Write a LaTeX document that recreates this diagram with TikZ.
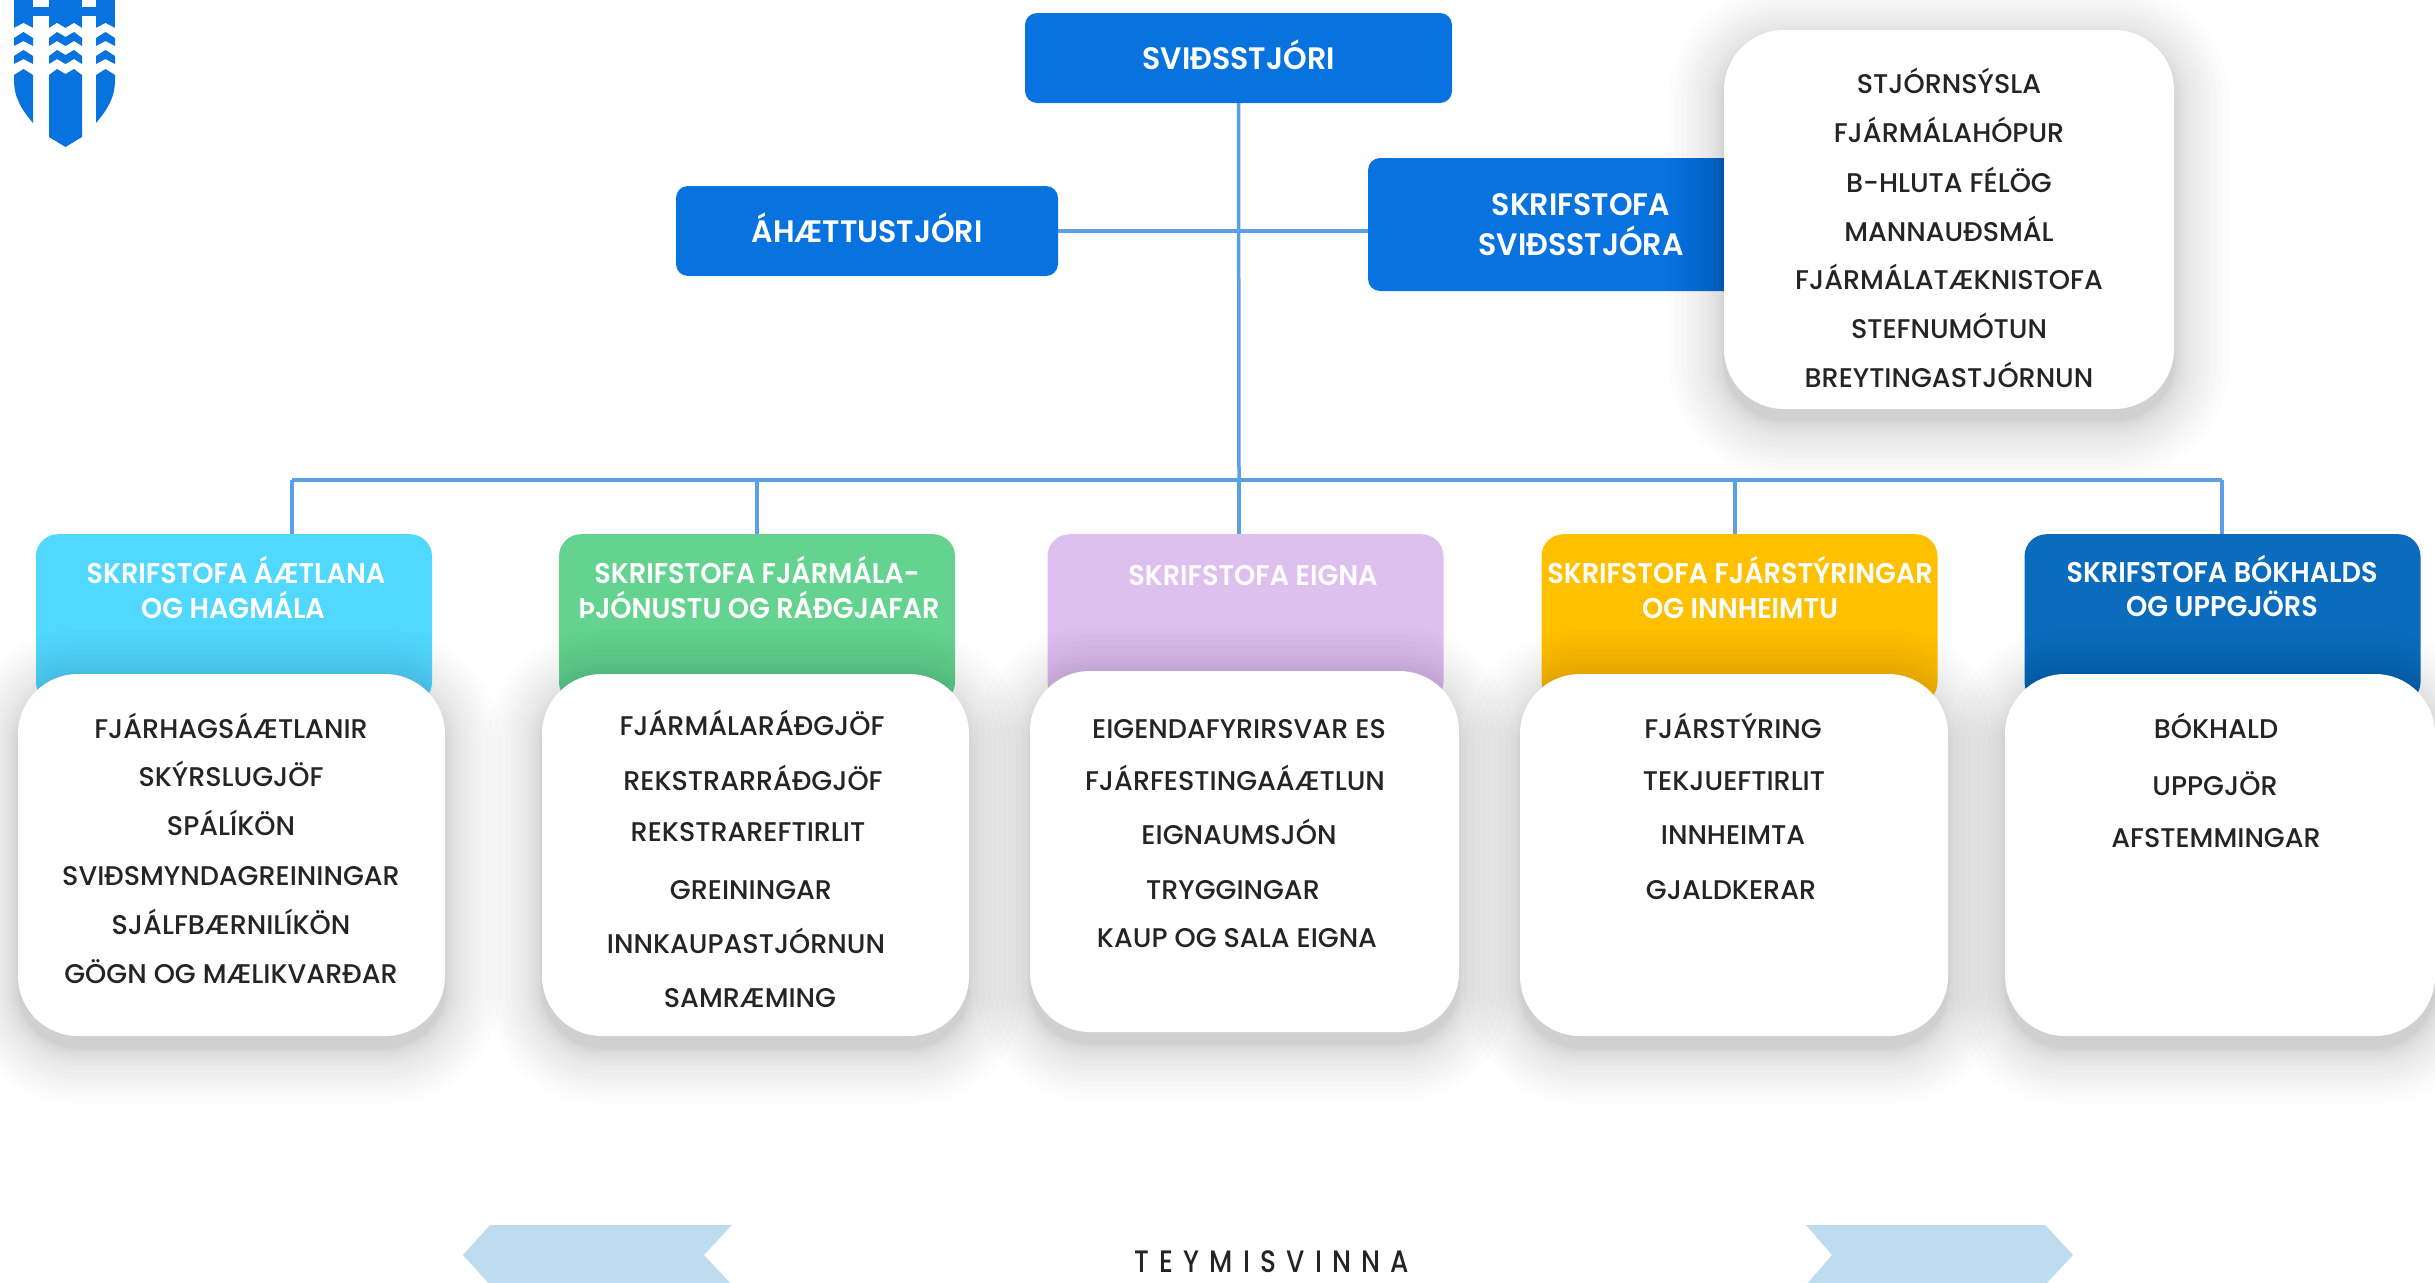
\documentclass[tikz,border=0pt]{standalone}
\usepackage{fontspec}
\newfontfamily\bodyfnt[FakeStretch=1.0]{Poppins Medium}
\newfontfamily\headfnt[FakeStretch=0.95]{Poppins SemiBold}
\newfontfamily\topfnt[FakeStretch=0.97]{Poppins SemiBold}
\newfontfamily\teamfnt[FakeStretch=0.85,LetterSpace=33]{Poppins Medium}
\definecolor{bluemain}{HTML}{0872DE}
\definecolor{linecol}{HTML}{5A9FE8}
\definecolor{hcyan}{HTML}{50D8FF}
\definecolor{hgreen}{HTML}{64D38F}
\definecolor{hpurple}{HTML}{DDC0EE}
\definecolor{hyellow}{HTML}{FFC000}
\definecolor{hnavy}{HTML}{0B6CBD}
\definecolor{arrowblue}{HTML}{BDDCF0}
\definecolor{txt}{HTML}{242424}
\newcommand{\softshadow}[4]{%
  \foreach \t in {1,...,16}{%
    \pgfmathsetmacro{\e}{56*(\t/16)*(\t/16)}%
    \fill[black,fill opacity=0.011,rounded corners={(60+\e)*1pt}]
      ({#1-\e},{#2-\e+12}) rectangle ({#3+\e},{#4+\e+12});
  }%
}
\tikzset{
  topbox/.style={fill=bluemain,rounded corners=12pt,inner sep=0pt,text=white,align=center,text height=22pt,text depth=0pt,font=\topfnt\fontsize{31}{40}\selectfont},
  headbox/.style={rounded corners=22pt,inner sep=0pt,minimum width=396pt,minimum height=170pt},
  whitebox/.style={fill=white,rounded corners=60pt,inner sep=0pt},
  headtxt/.style={text=white,inner sep=0pt,anchor=base,yshift=-10pt,font=\headfnt\fontsize{28.5}{30}\selectfont},
  itemtxt/.style={text=txt,inner sep=0pt,anchor=base,yshift=-9.5pt,font=\bodyfnt\fontsize{27}{28}\selectfont},
  link/.style={draw=linecol,line width=3.5pt},
  crest/.style={fill=bluemain,draw=none},
  chevron/.style={fill=arrowblue,draw=none}
}
\newcommand{\wavepair}[1]{%
  \fill[crest] (14,{#1+6})--(23.5,{#1})--(33,{#1+6})--(33,{#1+14})--(23.5,{#1+9})--(14,{#1+14})--cycle;
  \fill[crest] (96,{#1+6})--(105.5,{#1})--(115,{#1+6})--(115,{#1+14})--(105.5,{#1+9})--(96,{#1+14})--cycle;
  \fill[crest] (49,{#1+6})--(57,{#1})--(65.5,{#1+5})--(74,{#1})--(82,{#1+6})--(82,{#1+14})--(74,{#1+9})--(65.5,{#1+14})--(57,{#1+9})--(49,{#1+14})--cycle;
}
\begin{document}
\begin{tikzpicture}[x=1pt,y=-1pt]
\useasboundingbox (0,0) rectangle (2435,1282);
% crest
\fill[crest] (14,0) rectangle (33,28);
\fill[crest] (96,0) rectangle (115,28);
\fill[crest] (49,0) rectangle (82,28);
\fill[crest] (33,7) rectangle (96,16);
\fill[white] (14,28)--(23.5,23)--(33,28)--cycle;
\fill[white] (96,28)--(105.5,23)--(115,28)--cycle;
\fill[white] (49,28)--(57,23)--(65.5,28)--(74,23)--(82,28)--cycle;
\wavepair{32}
\wavepair{50}
\fill[crest] (14,75)--(23.5,69)--(33,75)--(33,123) .. controls (22,110) and (14,98) .. (14,80)--cycle;
\fill[crest] (96,75)--(105.5,69)--(115,75)--(115,80) .. controls (115,98) and (107,110) .. (96,123)--cycle;
\fill[crest] (49,75)--(57,69)--(65.5,74)--(74,69)--(82,75)--(82,137)--(65.5,147)--(49,137)--cycle;

% connector coordinates
\coordinate (hub) at (1239,480);
\coordinate (drop1) at (292,534);
\coordinate (drop2) at (757,534);
\coordinate (drop3) at (1239,534);
\coordinate (drop4) at (1735,534);
\coordinate (drop5) at (2222,534);

% top boxes
\node[topbox,minimum width=427pt,minimum height=90pt] (director) at (1238.5,58) {SVIÐSSTJÓRI};
\node[topbox,minimum width=382pt,minimum height=90pt] (risk) at (867,231) {ÁHÆTTUSTJÓRI};
\node[fill=bluemain,rounded corners=12pt,inner sep=0pt,minimum width=382pt,minimum height=133pt] (office) at (1559,224.5) {};
\node[text=white,inner sep=0pt,align=center,font=\topfnt\fontsize{31}{40}\selectfont] (officetxt) at (1581,225) {SKRIFSTOFA\\SVIÐSSTJÓRA};

% departmental headers
\node[headbox,fill=hcyan,anchor=north] (h1) at (234,534) {};
\node[headbox,fill=hgreen,anchor=north] (h2) at (757,534) {};
\node[headbox,fill=hpurple,anchor=north] (h3) at (1245.5,534) {};
\node[headbox,fill=hyellow,anchor=north] (h4) at (1739.5,534) {};
\node[headbox,fill=hnavy,anchor=north] (h5) at (2222.5,534) {};

% connectors
\draw[link] (director.south) -- (hub);
\draw[link] (hub) -- (drop3);
\draw[link] (risk.east) -- (risk.east -| office.west);
\draw[link] (hub -| drop1) -- (hub -| drop5);
\draw[link] (hub -| drop1) -- (drop1);
\draw[link] (hub -| drop2) -- (drop2);
\draw[link] (hub -| drop4) -- (drop4);
\draw[link] (hub -| drop5) -- (drop5);

% shadows
\softshadow{1724}{30}{2174}{409}
\softshadow{18}{674}{445}{1036}
\softshadow{542}{674}{969}{1036}
\softshadow{1030}{671}{1459}{1032}
\softshadow{1520}{674}{1948}{1036}
\softshadow{2005}{674}{2435}{1036}

% white panels
\node[whitebox,minimum width=450pt,minimum height=379pt] (panel0) at (1949,219.5) {};
\node[whitebox,minimum width=427pt,minimum height=362pt] (panel1) at (231.5,855) {};
\node[whitebox,minimum width=427pt,minimum height=362pt] (panel2) at (755.5,855) {};
\node[whitebox,minimum width=429pt,minimum height=361pt] (panel3) at (1244.5,851.5) {};
\node[whitebox,minimum width=428pt,minimum height=362pt] (panel4) at (1734,855) {};
\node[whitebox,minimum width=430pt,minimum height=362pt] (panel5) at (2220,855) {};

% header labels
\node[headtxt] (h1a) at (236,573) {SKRIFSTOFA ÁÆTLANA};
\node[headtxt] (h1b) at (233,608) {OG HAGMÁLA};
\node[headtxt] (h2a) at (757,573) {SKRIFSTOFA FJÁRMÁLA-};
\node[headtxt] (h2b) at (759,608) {ÞJÓNUSTU OG RÁÐGJAFAR};
\node[headtxt,text=white!95!hpurple] (h3a) at (1253,575) {SKRIFSTOFA EIGNA};
\node[headtxt] (h4a) at (1740,573) {SKRIFSTOFA FJÁRSTÝRINGAR};
\node[headtxt] (h4b) at (1740,608) {OG INNHEIMTU};
\node[headtxt] (h5a) at (2222,572) {SKRIFSTOFA BÓKHALDS};
\node[headtxt] (h5b) at (2222,606) {OG UPPGJÖRS};

% items, top-right panel
\node[itemtxt] (p0a) at (1949,84) {STJÓRNSÝSLA};
\node[itemtxt] (p0b) at (1949,133) {FJÁRMÁLAHÓPUR};
\node[itemtxt] (p0c) at (1949,183) {B-HLUTA FÉLÖG};
\node[itemtxt] (p0d) at (1949,232) {MANNAUÐSMÁL};
\node[itemtxt] (p0e) at (1949,280) {FJÁRMÁLATÆKNISTOFA};
\node[itemtxt] (p0f) at (1949,329) {STEFNUMÓTUN};
\node[itemtxt] (p0g) at (1949,378) {BREYTINGASTJÓRNUN};

% items, column 1
\node[itemtxt] (p1a) at (231,729) {FJÁRHAGSÁÆTLANIR};
\node[itemtxt] (p1b) at (231,777) {SKÝRSLUGJÖF};
\node[itemtxt] (p1c) at (231,826) {SPÁLÍKÖN};
\node[itemtxt] (p1d) at (231,876) {SVIÐSMYNDAGREININGAR};
\node[itemtxt] (p1e) at (231,925) {SJÁLFBÆRNILÍKÖN};
\node[itemtxt] (p1f) at (231,974) {GÖGN OG MÆLIKVARÐAR};

% items, column 2
\node[itemtxt] (p2a) at (752,726) {FJÁRMÁLARÁÐGJÖF};
\node[itemtxt] (p2b) at (753,781) {REKSTRARRÁÐGJÖF};
\node[itemtxt] (p2c) at (748,832) {REKSTRAREFTIRLIT};
\node[itemtxt] (p2d) at (751,890) {GREININGAR};
\node[itemtxt] (p2e) at (746,944) {INNKAUPASTJÓRNUN};
\node[itemtxt] (p2f) at (750,998) {SAMRÆMING};

% items, column 3
\node[itemtxt] (p3a) at (1239,729) {EIGENDAFYRIRSVAR ES};
\node[itemtxt] (p3b) at (1235,781) {FJÁRFESTINGAÁÆTLUN};
\node[itemtxt] (p3c) at (1239,835) {EIGNAUMSJÓN};
\node[itemtxt] (p3d) at (1233,890) {TRYGGINGAR};
\node[itemtxt] (p3e) at (1237,938) {KAUP OG SALA EIGNA};

% items, column 4
\node[itemtxt] (p4a) at (1733,729) {FJÁRSTÝRING};
\node[itemtxt] (p4b) at (1734,781) {TEKJUEFTIRLIT};
\node[itemtxt] (p4c) at (1733,835) {INNHEIMTA};
\node[itemtxt] (p4d) at (1731,890) {GJALDKERAR};

% items, column 5
\node[itemtxt] (p5a) at (2216,729) {BÓKHALD};
\node[itemtxt] (p5b) at (2215,786) {UPPGJÖR};
\node[itemtxt] (p5c) at (2216,838) {AFSTEMMINGAR};

% teamwork band
\fill[chevron] (490,1225)--(732,1225)--(704,1255)--(732,1285)--(490,1285)--(463,1255)--cycle;
\fill[chevron] (1806,1225)--(2045,1225)--(2073,1255)--(2045,1285)--(1806,1285)--(1832,1255)--cycle;
\node[text=txt,inner sep=0pt,anchor=base,yshift=-11pt,font=\teamfnt\fontsize{31}{32}\selectfont] (team) at (1272,1261) {TEYMISVINNA};
\end{tikzpicture}
\end{document}
